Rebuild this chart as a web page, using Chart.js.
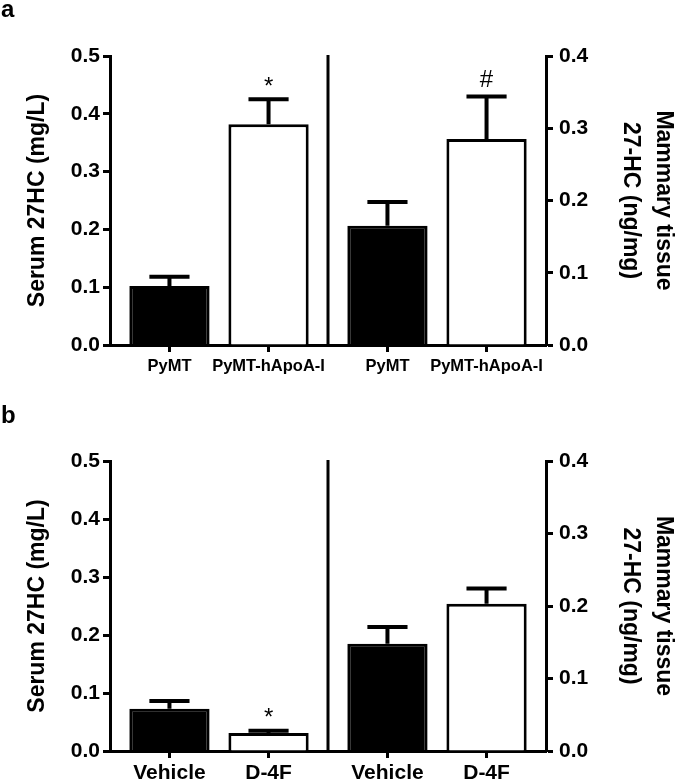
<!DOCTYPE html>
<html>
<head>
<meta charset="utf-8">
<script src="https://cdn.jsdelivr.net/npm/chart.js@4.4.1/dist/chart.umd.min.js"></script>
<style>
  html, body { margin: 0; padding: 0; background: #fff; }
  #page { position: relative; width: 675px; height: 783px; overflow: hidden; background: #fff; }
  canvas { position: absolute; left: 0; }
  #cA { top: 0; }
  #cB { top: 390px; }
  .plabel { position: absolute; left: 1px; font: bold 24px Arial, "Liberation Sans", sans-serif; line-height: 24px; color: #000; }
</style>
</head>
<body>
<div id="page">
  <canvas id="cA" width="675" height="390"></canvas>
  <canvas id="cB" width="675" height="393"></canvas>
  <div class="plabel" style="top:-3px">a</div>
  <div class="plabel" style="top:403px">b</div>
</div>
<script>
// ---------- data ----------
const panelALabels = ['PyMT', 'PyMT-hApoA-I'];
const panelBLabels = ['Vehicle', 'D-4F'];

const serumA     = [0.102, 0.382];
const serumAErr  = [0.016, 0.043];
const tissueA    = [0.165, 0.285];
const tissueAErr = [0.033, 0.059];

const serumB     = [0.073, 0.031];
const serumBErr  = [0.013, 0.004];
const tissueB    = [0.148, 0.203];
const tissueBErr = [0.023, 0.021];

const serumAMarks  = ['', '*'];
const tissueAMarks = ['', '#'];
const serumBMarks  = ['', '*'];
const tissueBMarks = ['', ''];

const serumTicks  = ['0.0', '0.1', '0.2', '0.3', '0.4', '0.5'];
const tissueTicks = ['0.0', '0.1', '0.2', '0.3', '0.4'];

const serumTitle  = 'Serum 27HC (mg/L)';
const tissueTitle = ['Mammary tissue', '27-HC (ng/mg)'];

// ---------- styling ----------
const FONT = 'Arial, "Liberation Sans", Helvetica, sans-serif';
Chart.defaults.font.family = FONT;
Chart.defaults.color = '#000';

const decor = {
  id: 'decor',
  afterDatasetsDraw(chart) {
    const ctx = chart.ctx;
    const area = chart.chartArea;
    const x1 = chart.scales.x1;
    ctx.save();
    ctx.strokeStyle = '#000';
    ctx.fillStyle = '#000';
    // divider between the two halves
    ctx.lineWidth = 3;
    ctx.beginPath();
    ctx.moveTo(x1.right, area.top - 1);
    ctx.lineTo(x1.right, area.bottom);
    ctx.stroke();
    // error bars (upper only) and significance marks
    chart.data.datasets.forEach((ds, di) => {
      const meta = chart.getDatasetMeta(di);
      const ys = chart.scales[ds.yAxisID];
      meta.data.forEach((bar, i) => {
        const p = bar.getProps(['x', 'y', 'width'], true);
        const yTop = ys.getPixelForValue(ds.data[i] + ds.errors[i]);
        const half = p.width / 4;
        ctx.lineWidth = 4;
        ctx.beginPath();
        ctx.moveTo(p.x, p.y);
        ctx.lineTo(p.x, yTop);
        ctx.moveTo(p.x - half, yTop);
        ctx.lineTo(p.x + half, yTop);
        ctx.stroke();
        if (ds.marks[i]) {
          ctx.font = '24px ' + FONT;
          ctx.textAlign = 'center';
          ctx.textBaseline = 'middle';
          ctx.fillText(ds.marks[i], p.x, yTop - (ds.marks[i] === '*' ? 12 : 16));
        }
      });
    });
    ctx.restore();
  }
};

function xAxis(labelFont, h, pad) {
  return {
    type: 'category',
    position: 'bottom',
    stack: 'bottom',
    stackWeight: 1,
    offset: true,
    afterBuildTicks: (s) => { s._startValue = -0.6; s._valueRange = 2.2; },
    afterFit: (s) => { s.height = h; },
    grid: { display: true, offset: false, drawOnChartArea: false, drawTicks: true,
            tickLength: 7, tickWidth: 3, tickColor: '#000' },
    border: { display: true, color: '#000', width: 3 },
    ticks: { font: { size: labelFont, weight: 'bold' }, color: '#000', padding: pad,
             autoSkip: false, maxRotation: 0, minRotation: 0 }
  };
}

function makePanel(id, cats, left, leftErr, leftMarks, right, rightErr, rightMarks, opts) {
  new Chart(document.getElementById(id), {
    type: 'bar',
    data: {
      datasets: [
        { data: left, errors: leftErr, marks: leftMarks, xAxisID: 'x1', yAxisID: 'y',
          backgroundColor: ['#000', '#fff'], borderColor: '#000', borderWidth: 3,
          grouped: false, barPercentage: 0.81, categoryPercentage: 1 },
        { data: right, errors: rightErr, marks: rightMarks, xAxisID: 'x2', yAxisID: 'y2',
          backgroundColor: ['#000', '#fff'], borderColor: '#000', borderWidth: 3,
          grouped: false, barPercentage: 0.81, categoryPercentage: 1 }
      ]
    },
    options: {
      responsive: false,
      animation: false,
      devicePixelRatio: 1,
      layout: { padding: { top: opts.top, left: 0, right: 0, bottom: 0 } },
      plugins: { legend: { display: false }, tooltip: { enabled: false } },
      scales: {
        x1: Object.assign(xAxis(opts.xFont, opts.xh, opts.xpad), { labels: cats }),
        x2: Object.assign(xAxis(opts.xFont, opts.xh, opts.xpad), { labels: cats }),
        y: {
          position: 'left',
          min: 0, max: 0.5,
          afterFit: (s) => { s.width = 110; },
          afterBuildTicks: (s) => { s.ticks = serumTicks.map(t => ({ value: parseFloat(t) })); },
          grid: { display: true, drawOnChartArea: false, drawTicks: true,
                  tickLength: 7, tickWidth: 3, tickColor: '#000' },
          border: { display: true, color: '#000', width: 3 },
          ticks: { font: { size: 21, weight: 'bold' }, color: '#000', padding: 3,
                   callback: (v, i) => serumTicks[i] },
          title: { display: true, text: serumTitle, color: '#000',
                   font: { size: 23, weight: 'bold' }, padding: { top: 24, bottom: 0 } }
        },
        y2: {
          position: 'right',
          min: 0, max: 0.4,
          afterFit: (s) => { s.width = 129; },
          afterBuildTicks: (s) => { s.ticks = tissueTicks.map(t => ({ value: parseFloat(t) })); },
          grid: { display: true, drawOnChartArea: false, drawTicks: true,
                  tickLength: 7, tickWidth: 3, tickColor: '#000' },
          border: { display: true, color: '#000', width: 3 },
          ticks: { font: { size: 21, weight: 'bold' }, color: '#000', padding: 6,
                   callback: (v, i) => tissueTicks[i] },
          title: { display: true, text: tissueTitle, color: '#000',
                   font: { size: 23, weight: 'bold', lineHeight: '33px' },
                   padding: { top: -5, bottom: 0 } }
        }
      }
    },
    plugins: [decor]
  });
}

makePanel('cA', panelALabels, serumA, serumAErr, serumAMarks, tissueA, tissueAErr, tissueAMarks,
          { top: 56, xh: 45, xFont: 16.5, xpad: 5 });
makePanel('cB', panelBLabels, serumB, serumBErr, serumBMarks, tissueB, tissueBErr, tissueBMarks,
          { top: 71, xh: 32, xFont: 21, xpad: 3 });
</script>
</body>
</html>
